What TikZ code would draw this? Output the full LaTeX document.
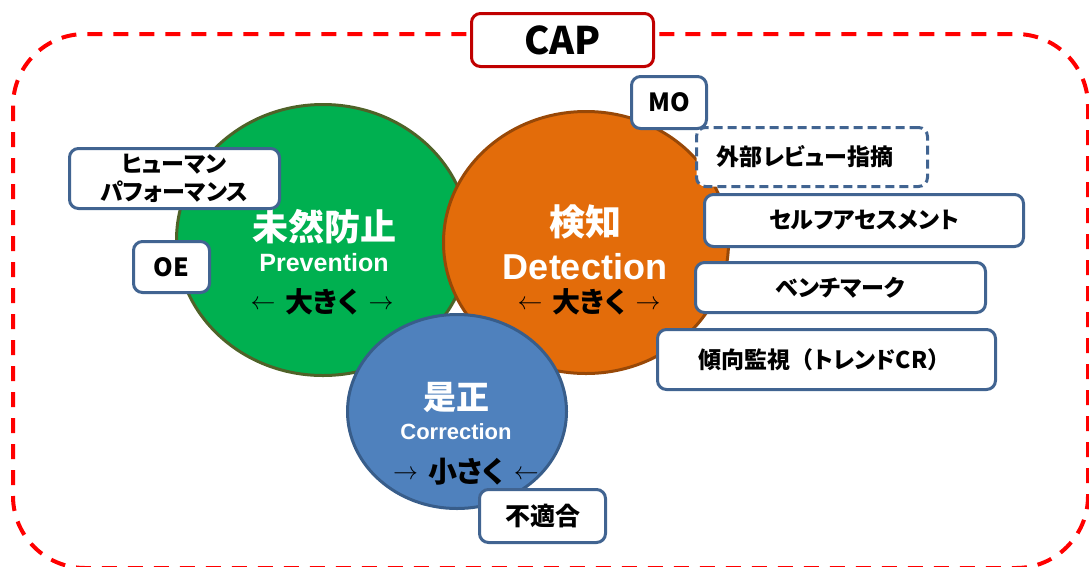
\documentclass[tikz,border=0pt]{standalone}
\usepackage{fontspec}
\setmainfont{Noto Sans CJK JP}[RawFeature=+palt]
\newfontfamily\jpfull{Noto Sans CJK JP}
\newfontfamily\lat{Liberation Sans}
\usetikzlibrary{shapes.geometric}
\definecolor{gfill}{RGB}{0,176,80}
\definecolor{gline}{RGB}{79,98,40}
\definecolor{ofill}{RGB}{227,108,10}
\definecolor{oline}{RGB}{152,72,7}
\definecolor{bfill}{RGB}{79,129,189}
\definecolor{bline}{RGB}{56,93,138}
\definecolor{boxline}{RGB}{65,100,145}
\definecolor{capline}{RGB}{192,0,0}
\newcommand{\fs}[1]{\fontsize{#1}{#1}\selectfont}
\newcommand{\la}{\raisebox{3pt}{\fs{28}$\leftarrow$}}
\newcommand{\ra}{\raisebox{3pt}{\fs{28}$\rightarrow$}}
\tikzset{
  circ/.style={ellipse, line width=3pt, inner sep=0pt},
  itembox/.style={draw=boxline, fill=white, line width=3pt, rounded corners=9pt, inner sep=0pt, align=center, font=\bfseries\fs{23}},
  wtxt/.style={text=white, inner sep=0pt, font=\bfseries},
  ktxt/.style={text=black, inner sep=0pt},
}
\begin{document}
\begin{tikzpicture}[x=1pt,y=-1pt]
\useasboundingbox (0,0) rectangle (1089,566);
% dashed frame
\draw[red, line width=4pt, dash pattern=on 15pt off 11pt, rounded corners=72pt] (13,34) rectangle (1088,568);
\node[draw=capline, fill=white, line width=3pt, rounded corners=9pt, minimum width=182pt, minimum height=53pt, inner sep=0pt, font=\bfseries\fs{38}] (cap) at (562.5,40) {CAP};
% circles
\node[circ, draw=gline, fill=gfill, minimum width=293pt, minimum height=271pt] (prev) at (323,240) {};
\node[circ, draw=oline, fill=ofill, minimum width=285pt, minimum height=262pt] (det) at (586,242.5) {};
\node[circ, draw=bline, fill=bfill, minimum width=219pt, minimum height=194pt] (corr) at (457,411.5) {};
% circle texts
\node[wtxt, font=\bfseries\fs{36}] (prevj) at (324,227) {未然防止};
\node[wtxt, font=\lat\bfseries\fs{25}] (preve) at (324,263) {Prevention};
\node[ktxt] (prevs) at (322,302) {\la\hspace{10pt}{\bfseries\fs{28}大きく}\hspace{10pt}\ra};
\node[wtxt, font=\bfseries\fs{36}] (detj) at (585,222) {検知};
\node[wtxt, font=\lat\bfseries\fs{36}] (dete) at (585,267) {Detection};
\node[ktxt] (dets) at (589,302) {\la\hspace{10pt}{\bfseries\fs{28}大きく}\hspace{10pt}\ra};
\node[wtxt, font=\bfseries\fs{33}] (corrj) at (456,397) {是正};
\node[wtxt, font=\lat\bfseries\fs{22}] (corre) at (456,432) {Correction};
\node[ktxt] (corrs) at (466,472) {\ra\hspace{10pt}{\bfseries\fs{29}小さく}\hspace{10pt}\la};
% item boxes
\node[itembox, minimum width=210pt, minimum height=60pt] (hp) at (174.5,178.5) {ヒューマン\\[5pt]パフォーマンス};
\node[itembox, minimum width=76pt, minimum height=51pt, font=\bfseries\fs{25}] (oe) at (171.5,267) {OE};
\node[itembox, minimum width=231pt, minimum height=59pt, dashed, dash pattern=on 9pt off 5pt] (gaibu) at (812,157) {\hspace*{-14pt}外部レビュー指摘};
\node[itembox, minimum width=75pt, minimum height=52pt, font=\bfseries\fs{25}] (mo) at (669,102.5) {MO};
\node[itembox, minimum width=319pt, minimum height=52pt] (self) at (864,220.5) {セルフアセスメント};
\node[itembox, minimum width=290pt, minimum height=50pt] (bench) at (840.5,287.5) {ベンチマーク};
\node[itembox, minimum width=338pt, minimum height=60pt] (trend) at (826.5,359.5) {\hspace*{-4pt}傾向監視{\jpfull（}トレンドCR{\jpfull）}};
\node[itembox, minimum width=126pt, minimum height=53pt, font=\bfseries\fs{25}] (fut) at (542.5,516) {不適合};
\end{tikzpicture}
\end{document}
